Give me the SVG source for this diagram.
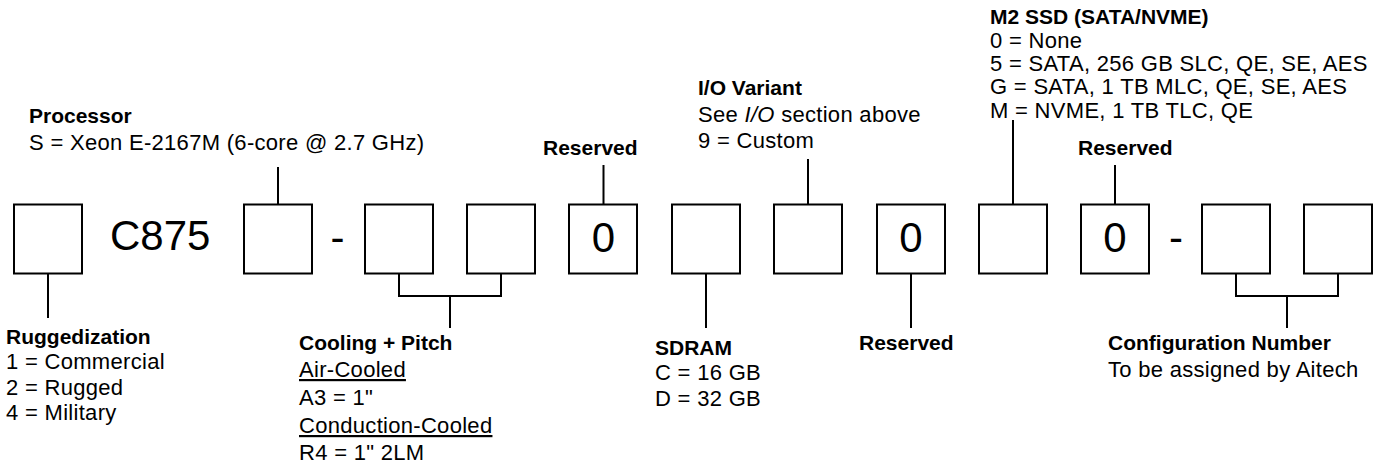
<svg xmlns="http://www.w3.org/2000/svg" width="1385" height="463" viewBox="0 0 1385 463">
<style>
  .box{fill:#fff;stroke:#000;stroke-width:2}
  .ln{fill:none;stroke:#000;stroke-width:2}
  text{font-family:"Liberation Sans",Arial,Helvetica,sans-serif;fill:#000}
  .h{font-size:21px;font-weight:bold}
  .t{font-size:22px;letter-spacing:0.3px}
  .big{font-size:42px}
  .dig{font-size:42px;text-anchor:middle}
  .u{text-decoration:underline}
</style>
<rect width="1385" height="463" fill="#fff"/>

<g id="connectors">
  <path class="ln" d="M48 273.5 V318"/>
  <path class="ln" d="M278 167 V204.5"/>
  <path class="ln" d="M399 273.5 V296 H501 V273.5 M450 296 V328"/>
  <path class="ln" d="M603.5 165 V204.5"/>
  <path class="ln" d="M706 273.5 V328"/>
  <path class="ln" d="M808 159 V204.5"/>
  <path class="ln" d="M911 273.5 V328"/>
  <path class="ln" d="M1013 120 V204.5"/>
  <path class="ln" d="M1115 165 V204.5"/>
  <path class="ln" d="M1236 273.5 V296 H1338 V273.5 M1287 296 V328"/>
</g>

<g id="code">
  <g id="box-ruggedization"><rect class="box" x="14" y="204.5" width="68" height="69"/></g>
  <g id="model"><text class="big" x="110" y="250">C875</text></g>
  <g id="box-processor"><rect class="box" x="244" y="204.5" width="68" height="69"/></g>
  <g id="dash1"><text class="dig" x="337.5" y="252">-</text></g>
  <g id="box-cooling-1"><rect class="box" x="365" y="204.5" width="68" height="69"/></g>
  <g id="box-cooling-2"><rect class="box" x="467" y="204.5" width="68" height="69"/></g>
  <g id="box-reserved-1"><rect class="box" x="569" y="204.5" width="68" height="69"/><text class="dig" x="603.5" y="252">0</text></g>
  <g id="box-sdram"><rect class="box" x="672" y="204.5" width="68" height="69"/></g>
  <g id="box-io"><rect class="box" x="774" y="204.5" width="68" height="69"/></g>
  <g id="box-reserved-2"><rect class="box" x="877" y="204.5" width="68" height="69"/><text class="dig" x="911" y="252">0</text></g>
  <g id="box-ssd"><rect class="box" x="979" y="204.5" width="68" height="69"/></g>
  <g id="box-reserved-3"><rect class="box" x="1081" y="204.5" width="68" height="69"/><text class="dig" x="1115" y="252">0</text></g>
  <g id="dash2"><text class="dig" x="1176" y="252">-</text></g>
  <g id="box-config-1"><rect class="box" x="1202" y="204.5" width="68" height="69"/></g>
  <g id="box-config-2"><rect class="box" x="1304" y="204.5" width="68" height="69"/></g>
</g>

<g id="label-processor">
  <text class="h" x="29" y="123">Processor</text>
  <text class="t" x="29" y="150">S = Xeon E-2167M (6-core @ 2.7 GHz)</text>
</g>
<g id="label-reserved-1">
  <text class="h" x="543" y="155">Reserved</text>
</g>
<g id="label-io">
  <text class="h" x="698" y="95">I/O Variant</text>
  <text class="t" x="698" y="122">See <tspan font-style="italic">I/O</tspan> section above</text>
  <text class="t" x="698" y="148">9 = Custom</text>
</g>
<g id="label-ssd">
  <text class="h" x="990" y="24">M2 SSD (SATA/NVME)</text>
  <text class="t" x="990" y="48">0 = None</text>
  <text class="t" x="990" y="71">5 = SATA, 256 GB SLC, QE, SE, AES</text>
  <text class="t" x="990" y="94">G = SATA, 1 TB MLC, QE, SE, AES</text>
  <text class="t" x="990" y="118">M = NVME, 1 TB TLC, QE</text>
</g>
<g id="label-reserved-3">
  <text class="h" x="1078" y="155">Reserved</text>
</g>
<g id="label-ruggedization">
  <text class="h" x="6" y="344">Ruggedization</text>
  <text class="t" x="6" y="369">1 = Commercial</text>
  <text class="t" x="6" y="395">2 = Rugged</text>
  <text class="t" x="6" y="420">4 = Military</text>
</g>
<g id="label-cooling">
  <text class="h" x="299" y="350">Cooling + Pitch</text>
  <text class="t u" x="299" y="377">Air-Cooled</text>
  <text class="t" x="299" y="405">A3 = 1"</text>
  <text class="t u" x="299" y="433">Conduction-Cooled</text>
  <text class="t" x="299" y="460">R4 = 1" 2LM</text>
</g>
<g id="label-sdram">
  <text class="h" x="655" y="355">SDRAM</text>
  <text class="t" x="655" y="380">C = 16 GB</text>
  <text class="t" x="655" y="406">D = 32 GB</text>
</g>
<g id="label-reserved-2">
  <text class="h" x="859" y="350">Reserved</text>
</g>
<g id="label-config">
  <text class="h" x="1108" y="350">Configuration Number</text>
  <text class="t" x="1108" y="377">To be assigned by Aitech</text>
</g>
</svg>
